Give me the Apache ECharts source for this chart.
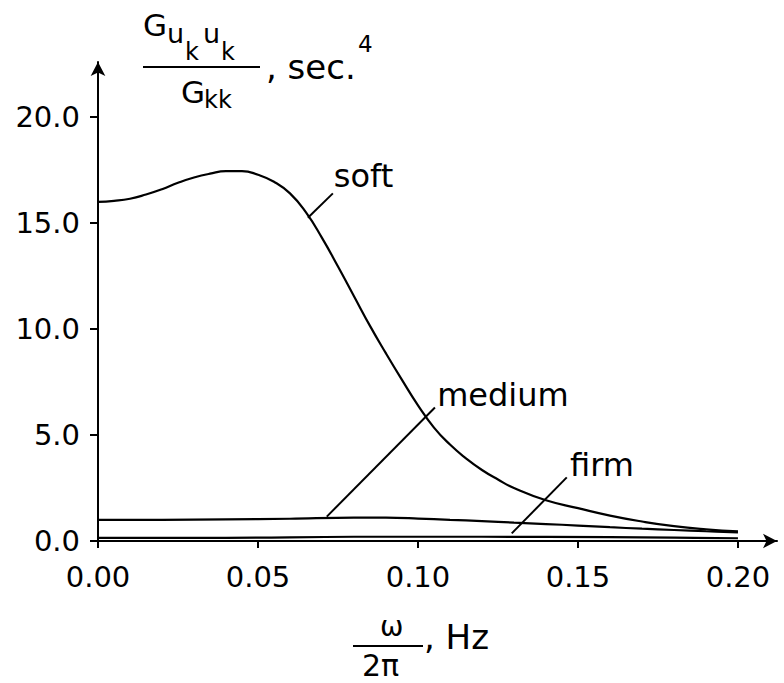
<!DOCTYPE html>
<html>
<head>
<meta charset="utf-8">
<script src="https://cdn.jsdelivr.net/npm/echarts@6/dist/echarts.min.js"></script>
<style>html,body{margin:0;padding:0;background:#fff}#c{width:784px;height:683px}</style>
</head>
<body>
<div id="c"></div>
<script>
// ---- data ----
var softX = [0, 0.005, 0.01, 0.015, 0.02, 0.025, 0.03, 0.035, 0.04, 0.045, 0.05, 0.055, 0.06, 0.065, 0.07, 0.075, 0.08, 0.085, 0.09, 0.095, 0.10, 0.105, 0.11, 0.115, 0.12, 0.125, 0.13, 0.14, 0.15, 0.16, 0.17, 0.18, 0.19, 0.20];
var softY = [16.0, 16.05, 16.15, 16.35, 16.6, 16.9, 17.15, 17.33, 17.45, 17.45, 17.28, 16.95, 16.4, 15.5, 14.3, 12.95, 11.55, 10.15, 8.85, 7.6, 6.4, 5.35, 4.55, 3.9, 3.35, 2.9, 2.5, 1.92, 1.55, 1.2, 0.92, 0.7, 0.55, 0.45];
var mediumX = [0, 0.02, 0.04, 0.06, 0.08, 0.09, 0.10, 0.11, 0.12, 0.13, 0.14, 0.15, 0.16, 0.17, 0.18, 0.19, 0.20];
var mediumY = [1.0, 1.0, 1.02, 1.05, 1.1, 1.1, 1.06, 1.0, 0.94, 0.87, 0.8, 0.73, 0.65, 0.58, 0.52, 0.46, 0.41];
var firmX = [0, 0.04, 0.08, 0.12, 0.16, 0.18, 0.20];
var firmY = [0.15, 0.15, 0.2, 0.2, 0.18, 0.16, 0.13];
var xTicks = [0, 0.05, 0.10, 0.15, 0.20];
var yTicks = [0, 5, 10, 15, 20];
// annotation leaders (data coords) and label anchors
var softLeader = [[0.0656, 15.25], [0.0734, 16.4]];
var mediumLeader = [[0.0715, 1.15], [0.1053, 6.3]];
var firmLeader = [[0.1293, 0.36], [0.1465, 3.0]];
var softLabel = [0.0737, 17.2];
var mediumLabel = [0.1060, 6.9];
var firmLabel = [0.1475, 3.6];

function pairs(xs, ys) { return xs.map(function (x, i) { return [x, ys[i]]; }); }

var FONT = 'DejaVu Sans';
var chart = echarts.init(document.getElementById('c'), null, { renderer: 'svg' });

function leader(seg) {
  return {
    silent: true, symbol: 'none', label: { show: false },
    lineStyle: { color: '#000', width: 2, type: 'solid' },
    data: [[{ coord: seg[0] }, { coord: seg[1] }]]
  };
}
function tag(pt, text) {
  return {
    silent: true, symbol: 'circle', symbolSize: 0.01,
    label: { show: true, position: 'right', distance: 0, formatter: text, color: '#000', fontFamily: FONT, fontSize: 32 },
    data: [{ coord: pt }]
  };
}

var option = {
  animation: false,
  backgroundColor: '#fff',
  grid: { left: 98, right: 7, top: 62, bottom: 142 },
  xAxis: {
    type: 'value', min: 0, max: 0.2122,
    axisLine: { show: true, symbol: ['none', 'arrow'], symbolSize: [11, 14], lineStyle: { color: '#000', width: 2 } },
    axisTick: { show: true, customValues: xTicks, length: 7, lineStyle: { color: '#000', width: 2 } },
    axisLabel: { customValues: xTicks, formatter: function (v) { return v.toFixed(2); }, color: '#000', fontFamily: FONT, fontSize: 29, margin: 21 },
    splitLine: { show: false }
  },
  yAxis: {
    type: 'value', min: 0, max: 22.6,
    axisLine: { show: true, symbol: ['none', 'arrow'], symbolSize: [11, 14], lineStyle: { color: '#000', width: 2 } },
    axisTick: { show: true, customValues: yTicks, length: 8, lineStyle: { color: '#000', width: 2 } },
    axisLabel: { customValues: yTicks, formatter: function (v) { return v.toFixed(1); }, color: '#000', fontFamily: FONT, fontSize: 29, margin: 18 },
    splitLine: { show: false }
  },
  series: [
    { name: 'soft', type: 'line', data: pairs(softX, softY), smooth: 0.5, showSymbol: false,
      lineStyle: { color: '#000', width: 2.2 }, markLine: leader(softLeader), markPoint: tag(softLabel, 'soft') },
    { name: 'medium', type: 'line', data: pairs(mediumX, mediumY), smooth: 0.4, showSymbol: false,
      lineStyle: { color: '#000', width: 2.2 }, markLine: leader(mediumLeader), markPoint: tag(mediumLabel, 'medium') },
    { name: 'firm', type: 'line', data: pairs(firmX, firmY), smooth: 0.4, showSymbol: false,
      lineStyle: { color: '#000', width: 2.2 }, markLine: leader(firmLeader), markPoint: tag(firmLabel, 'firm') }
  ],
  graphic: [
    // y-axis name: G_{u_k u_k} / G_kk , sec.^4
    { type: 'text', left: 143, top: 9, style: { text: 'G', font: '31px "DejaVu Sans"', fill: '#000' } },
    { type: 'text', left: 167, top: 20, style: { text: 'u', font: '27px "DejaVu Sans"', fill: '#000' } },
    { type: 'text', left: 185, top: 40, style: { text: 'k', font: '24px "DejaVu Sans"', fill: '#000' } },
    { type: 'text', left: 203, top: 20, style: { text: 'u', font: '27px "DejaVu Sans"', fill: '#000' } },
    { type: 'text', left: 221, top: 40, style: { text: 'k', font: '24px "DejaVu Sans"', fill: '#000' } },
    { type: 'line', shape: { x1: 143, y1: 67, x2: 260, y2: 67 }, style: { stroke: '#000', lineWidth: 2 } },
    { type: 'text', left: 181, top: 76, style: { text: 'G', font: '31px "DejaVu Sans"', fill: '#000' } },
    { type: 'text', left: 204, top: 88, style: { text: 'kk', font: '24px "DejaVu Sans"', fill: '#000' } },
    { type: 'text', left: 266, top: 50, style: { text: ', sec.', font: '34px "DejaVu Sans"', fill: '#000' } },
    { type: 'text', left: 358, top: 32, style: { text: '4', font: '23px "DejaVu Sans"', fill: '#000' } },
    // x-axis name: ω / 2π , Hz
    { type: 'text', left: 380, top: 612, style: { text: 'ω', font: '28px "DejaVu Sans"', fill: '#000' } },
    { type: 'line', shape: { x1: 353, y1: 646, x2: 423, y2: 646 }, style: { stroke: '#000', lineWidth: 2 } },
    { type: 'text', left: 362, top: 650, style: { text: '2π', font: '30px "DejaVu Sans"', fill: '#000' } },
    { type: 'text', left: 424, top: 620, style: { text: ', Hz', font: '34px "DejaVu Sans"', fill: '#000' } }
  ]
};
chart.setOption(option);
</script>
</body>
</html>
